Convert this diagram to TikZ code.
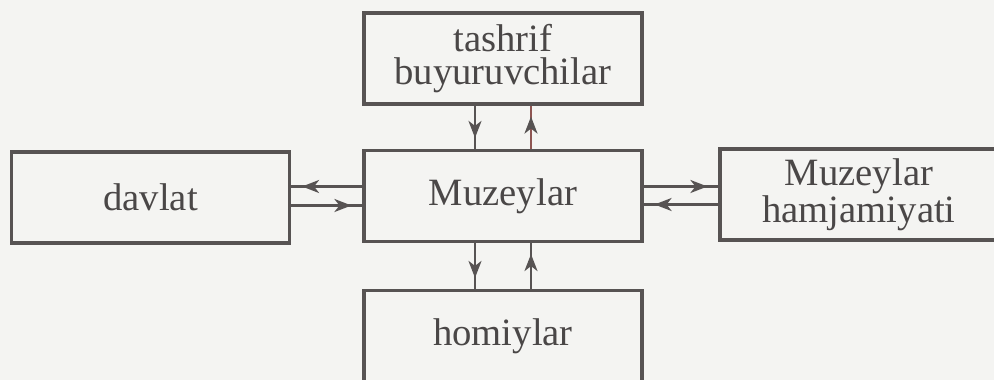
\documentclass[tikz,border=0pt]{standalone}
\usepackage{fontspec}
\setmainfont{Liberation Serif}
\usetikzlibrary{arrows.meta,decorations.markings}
\definecolor{ink}{HTML}{575353}
\definecolor{paper}{HTML}{F4F4F2}
\definecolor{redink}{HTML}{8E5552}
\begin{document}
\begin{tikzpicture}[
  box/.style={draw=ink, line width=1.8pt, minimum width=5.56cm, minimum height=1.82cm,
    inner sep=0pt, align=center, text=ink!85!black, font=\fontsize{22}{19}\selectfont},
  flow/.style={draw=ink, line width=1.4pt, postaction={decorate},
    decoration={markings, mark=at position -0.22cm with
      {\arrow{Stealth[length=0.34cm, width=0.26cm, inset=0.1cm, color=ink]}}}}]
  \useasboundingbox (0,0) rectangle (19.88,-7.6);
  \fill[paper] (0,0) rectangle (19.88,-7.6);
  \node[box] (tash) at (10.06,-1.17) {tashrif\\buyuruvchilar};
  \node[box] (muz) at (10.06,-3.92) {Muzeylar};
  \node[box] (dav) at (3.01,-3.95) {davlat};
  \node[box] (ham) at (17.18,-3.89) {Muzeylar\\hamjamiyati};
  \node[box] (hom) at (10.06,-6.72) {homiylar};
  % top
  \draw[flow] ([xshift=-0.56cm]tash.south) -- ([xshift=-0.56cm]muz.north);
  \draw[flow, draw=redink] ([xshift=0.56cm]muz.north) -- ([xshift=0.56cm]tash.south);
  % left
  \draw[flow] ([yshift=0.19cm]muz.west) -- ([yshift=0.19cm]muz.west -| dav.east);
  \draw[flow] ([yshift=-0.19cm]muz.west -| dav.east) -- ([yshift=-0.19cm]muz.west);
  % right
  \draw[flow] ([yshift=0.19cm]muz.east) -- ([yshift=0.19cm]muz.east -| ham.west);
  \draw[flow] ([yshift=-0.17cm]muz.east -| ham.west) -- ([yshift=-0.17cm]muz.east);
  % bottom
  \draw[flow] ([xshift=-0.56cm]muz.south) -- ([xshift=-0.56cm]hom.north);
  \draw[flow] ([xshift=0.56cm]hom.north) -- ([xshift=0.56cm]muz.south);
\end{tikzpicture}
\end{document}
